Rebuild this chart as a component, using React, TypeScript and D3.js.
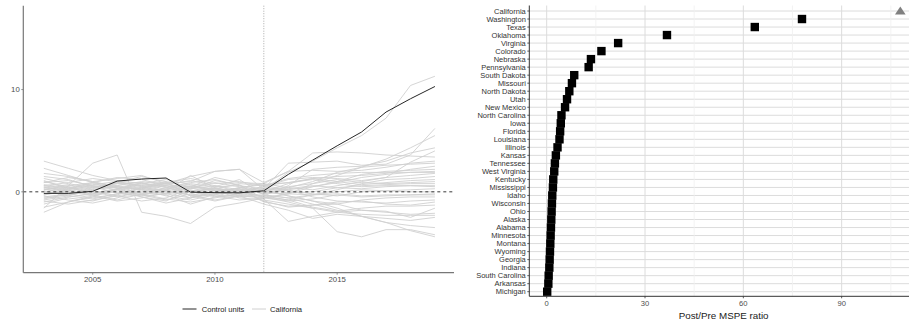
import React from "react";
import * as d3 from "d3";

const years = d3.range(2003, 2020);
const treatYear = 2012;

const controlUnits = [-0.15, -0.15, 0.05, 1.05, 1.25, 1.35, -0.03, -0.08, -0.1, 0.1, 1.7, 3.1, 4.5, 5.85, 7.8, 9.1, 10.3];

const s1 = [0.4, 0.7, 0.2, 0.5, 0.3, 0.1, 0.4, -0.2, 0.1, 0.2, 1.9, 3.0, 4.3, 5.5, 7.2, 10.4, 11.3];
const s2 = [3.0, 2.3, 1.6, 1.1, 0.8, 0.6, 0.5, 0.3, -0.2, 0.3, 2.8, 2.9, 3.0, 2.6, 2.7, 3.6, 6.2];
const s3 = [-1.6, 0.6, 2.8, 3.6, -2.0, -2.4, -3.1, -1.5, -1.1, -0.6, -0.2, 0.8, 1.6, 2.4, 3.2, 4.3, 5.5];
const s4 = [-2.0, -1.0, -0.5, 0.3, 0.7, 0.5, -0.4, -0.3, -0.5, -0.4, 0.6, 2.2, 2.4, 2.5, 3.0, 3.8, 4.3];
const s5 = [1.8, 1.5, 1.0, 1.3, 1.6, 0.8, 1.5, 2.0, 2.2, 0.9, 2.0, 3.8, 3.9, 3.8, 3.6, 3.5, 3.4];
const s6 = [0.9, 1.1, 0.6, 0.2, -0.3, 0.1, 1.6, 0.4, -0.1, 0.5, 1.2, 1.4, 1.3, 1.1, 1.4, 2.9, 4.0];
const s7 = [-0.5, -0.2, 0.3, 0.8, 0.9, 0.2, -0.6, 0.1, 0.3, -0.2, 0.4, 1.0, 1.9, 2.4, 2.6, 2.7, 2.8];
const s8 = [0.2, 0.5, -0.3, -0.8, -0.2, 0.4, 0.9, 1.2, 0.6, 0.0, 0.8, 1.3, 1.5, 1.6, 1.8, 2.2, 2.5];
const s9 = [1.1, 0.3, 0.8, 0.4, -0.5, -0.9, 0.2, -0.4, -0.8, -0.6, -0.2, 0.5, 1.0, 1.7, 2.0, 2.1, 2.2];
const s10 = [-0.8, -0.4, 0.2, 0.6, 1.0, 0.8, 0.3, 0.6, 0.2, 0.4, 0.2, 0.5, 0.9, 1.4, 1.7, 1.9, 2.0];
const s11 = [0.6, 0.9, 1.3, 1.0, 0.5, 0.0, -0.3, -0.1, 0.4, 0.8, 0.4, 0.2, 0.6, 1.0, 1.4, 1.6, 1.8];
const s12 = [-1.2, -0.6, -0.9, -0.3, 0.4, 0.7, 1.1, 0.6, 0.0, -0.5, -0.8, -0.3, 0.2, 0.8, 1.2, 1.3, 1.5];
const s13 = [0.3, -0.2, -0.6, -0.2, 0.3, 0.9, 1.3, 0.8, 1.0, 0.6, 0.9, 1.3, 1.0, 0.7, 0.9, 1.1, 1.2];
const s14 = [0.0, 0.4, 0.9, 1.4, 1.2, 0.6, 0.1, -0.5, -0.3, 0.1, 0.5, 0.8, 1.2, 0.9, 0.8, 0.9, 1.0];
const s15 = [1.5, 1.2, 0.5, -0.1, -0.4, -0.2, 0.4, 0.9, 0.5, -0.2, 0.3, 0.6, 0.4, 0.6, 0.7, 0.8, 0.8];
const s16 = [-0.3, 0.2, 0.6, 0.4, -0.2, -0.7, -1.0, -0.6, -0.2, 0.2, -0.1, 0.0, 0.4, 0.3, 0.5, 0.6, 0.5];
const s17 = [0.7, 0.4, -0.1, 0.3, 0.8, 1.2, 0.7, 0.2, -0.4, -0.3, -0.6, -0.3, 0.0, 0.2, 0.1, 0.2, 0.3];
const s18 = [-0.9, -1.2, -0.8, -0.4, 0.0, 0.3, 0.8, 0.5, 0.6, 0.3, 0.1, -0.2, -0.4, 0.0, 0.1, 0.0, 0.0];
const s19 = [0.4, 0.0, -0.4, -0.9, -0.6, -0.1, 0.5, 0.1, -0.4, -0.6, -0.9, -0.7, -0.3, -0.5, -0.4, -0.3, -0.2];
const s20 = [1.3, 0.8, 0.4, 0.9, 1.5, 1.0, -0.4, -0.9, -0.4, 0.1, -0.4, -0.9, -1.2, -0.8, -0.6, -0.5, -0.5];
const s21 = [-0.4, -0.8, -1.1, -0.6, 0.2, 0.6, 0.0, 0.3, 0.8, 0.6, 0.2, -0.5, -0.9, -1.0, -1.1, -0.9, -0.8];
const s22 = [0.9, 1.4, 1.0, 0.5, 0.2, -0.4, -0.8, -0.3, 0.2, -0.9, -1.5, -1.3, -1.0, -0.9, -1.2, -1.3, -1.0];
const s23 = [-1.5, -1.0, -0.4, 0.2, -0.3, -0.8, -0.2, 0.4, -0.1, -0.4, -0.8, -1.5, -1.9, -1.6, -1.4, -1.4, -1.3];
const s24 = [0.2, 0.6, 0.9, 0.5, -0.1, -0.3, -1.2, -0.5, 0.3, -1.0, -1.4, -1.3, -1.2, -1.8, -1.9, -2.5, -1.6];
const s25 = [-0.6, -0.3, 0.1, -0.4, -0.9, -0.6, 0.3, 1.1, 0.7, -0.7, -2.9, -2.4, -2.0, -1.8, -2.0, -2.2, -2.1];
const s26 = [1.0, 0.5, 0.0, -0.5, -0.3, 0.2, 0.6, 0.1, -0.6, -0.8, -1.2, -1.6, -2.0, -2.2, -2.3, -2.3, -2.3];
const s27 = [-0.2, 0.3, 0.7, 1.0, 0.6, 0.1, -0.3, -0.8, -0.4, -1.2, -1.8, -2.6, -2.2, -2.4, -2.6, -2.8, -2.5];
const s28 = [0.6, 0.2, -0.2, 0.2, 0.5, 0.9, -0.4, 0.3, 0.1, -0.5, -1.0, -1.6, -3.9, -4.4, -3.7, -3.7, -4.2];
const s29 = [-1.0, -0.5, -0.2, 0.3, 0.9, 0.4, -0.1, 0.5, 1.2, -0.3, -0.6, -1.2, -1.8, -2.4, -3.0, -3.3, -3.5];
const s30 = [0.1, -0.4, -0.7, -0.2, 0.4, 0.8, 1.0, 2.0, 2.2, 0.2, -0.4, -0.9, -1.6, -2.4, -3.0, -3.8, -4.4];
const s31 = [2.3, 1.6, 0.9, 0.6, 0.2, -0.2, -0.6, -0.2, 0.4, 0.7, 0.9, 1.2, 0.8, 0.5, 0.6, 0.6, 0.6];
const s32 = [-0.3, 0.1, 0.5, 0.8, 0.4, -0.2, 0.1, 0.3, -0.2, 0.6, 1.3, 1.6, 1.8, 1.9, 1.9, 1.9, 1.9];
const s33 = [0.5, 0.1, -0.3, 0.0, -0.5, -1.1, -0.6, 0.0, 0.4, -0.1, -0.2, -0.3, -0.2, -0.4, -0.3, -0.3, -0.3];
const s34 = [-0.7, -0.2, 0.4, 0.9, 0.6, 1.0, 0.5, 1.4, 0.9, 0.8, 2.0, 2.1, 2.0, 2.1, 2.4, 2.8, 3.0];

const placebos = [s1, s2, s3, s4, s5, s6, s7, s8, s9, s10, s11, s12, s13, s14, s15, s16, s17,
  s18, s19, s20, s21, s22, s23, s24, s25, s26, s27, s28, s29, s30, s31, s32, s33, s34];

const leftYTicks = [0, 10];
const leftXTicks = [2005, 2010, 2015];
const legendLabels = ["Control units", "California"];

const states = ["California", "Washington", "Texas", "Oklahoma", "Virginia", "Colorado", "Nebraska",
  "Pennsylvania", "South Dakota", "Missouri", "North Dakota", "Utah", "New Mexico", "North Carolina",
  "Iowa", "Florida", "Louisiana", "Illinois", "Kansas", "Tennessee", "West Virginia", "Kentucky",
  "Mississippi", "Idaho", "Wisconsin", "Ohio", "Alaska", "Alabama", "Minnesota", "Montana", "Wyoming",
  "Georgia", "Indiana", "South Carolina", "Arkansas", "Michigan"];
const ratios = [107.9, 77.9, 63.5, 36.7, 21.8, 16.7, 13.5, 12.8, 8.4, 7.7, 6.9, 6.2, 5.6, 4.5,
  4.3, 4.1, 3.9, 3.3, 2.8, 2.5, 2.3, 2.0, 1.9, 1.7, 1.6, 1.5, 1.4, 1.3, 1.2, 1.1, 1.0,
  0.9, 0.8, 0.6, 0.5, 0.15];
const treatedState = "California";
const rightMajorTicks = [0, 30, 60, 90];
const rightMinorTicks = [15, 45, 75, 105];
const rightXTitle = "Post/Pre MSPE ratio";

const FONT = "'Liberation Sans', Arial, sans-serif";

export default function App() {
  // left panel
  const lx = d3.scaleLinear().domain([2002.16, 2019.78]).range([23.3, 454]);
  const ly = d3.scaleLinear().domain([-7.91, 18.2]).range([272.7, 5.7]);
  const line = d3.line<number>().x((_, i) => lx(years[i])).y((d) => ly(d));

  // right panel
  const rx = d3.scaleLinear().domain([-5.31, 113.3]).range([529.3, 918]);
  const ry = d3.scalePoint<string>().domain(states).range([11, 291.7]);
  const rTop = 5.5, rBottom = 296.3;
  const sq = 8.4;

  const axisCol = "#4d4d4d";
  const textCol = "#4d4d4d";

  return (
    <svg width={909} height={322} style={{ position: "absolute", left: 0, top: 0, background: "#fff" }}
      fontFamily={FONT}>
      {/* ===== Left panel ===== */}
      <g>
        {placebos.map((s, i) => (
          <path key={i} d={line(s) || ""} fill="none" stroke="#d0d0d0" strokeWidth={0.9} />
        ))}
        <path d={line(controlUnits) || ""} fill="none" stroke="#262626" strokeWidth={1} />
        <line x1={lx.range()[0]} x2={lx.range()[1]} y1={ly(0)} y2={ly(0)} stroke="#222"
          strokeWidth={0.9} strokeDasharray="3,3" />
        <line x1={lx(treatYear)} x2={lx(treatYear)} y1={ly.range()[1]} y2={ly.range()[0]}
          stroke="#aaa" strokeWidth={1} strokeDasharray="1,1.5" />
        {/* axes */}
        <line x1={lx.range()[0]} x2={lx.range()[0]} y1={ly.range()[1]} y2={ly.range()[0]}
          stroke="#777" strokeWidth={1.2} />
        <line x1={lx.range()[0]} x2={lx.range()[1]} y1={ly.range()[0]} y2={ly.range()[0]}
          stroke="#777" strokeWidth={1.2} />
        {leftYTicks.map((t) => (
          <g key={t}>
            <line x1={lx.range()[0] - 2} x2={lx.range()[0]} y1={ly(t)} y2={ly(t)} stroke="#777" strokeWidth={0.8} />
            <text x={lx.range()[0] - 3.5} y={ly(t)} dy="0.35em" textAnchor="end" fontSize={7.8} fill={textCol}>{t}</text>
          </g>
        ))}
        {leftXTicks.map((t) => (
          <g key={t}>
            <line x1={lx(t)} x2={lx(t)} y1={ly.range()[0]} y2={ly.range()[0] + 2} stroke="#777" strokeWidth={0.8} />
            <text x={lx(t)} y={ly.range()[0] + 9.5} textAnchor="middle" fontSize={7.8} fill={textCol}>{t}</text>
          </g>
        ))}
        {/* legend */}
        <line x1={182.5} x2={196.5} y1={309} y2={309} stroke="#262626" strokeWidth={1} />
        <text x={201.7} y={309} dy="0.35em" fontSize={7.6} fill="#222">{legendLabels[0]}</text>
        <line x1={252} x2={266} y1={309} y2={309} stroke="#d0d0d0" strokeWidth={1} />
        <text x={270} y={309} dy="0.35em" fontSize={7.6} fill="#222">{legendLabels[1]}</text>
      </g>

      {/* ===== Right panel ===== */}
      <g>
        {states.map((s) => (
          <line key={s} x1={rx.range()[0]} x2={rx.range()[1]} y1={ry(s)} y2={ry(s)} stroke="#dcdcdc" strokeWidth={1} />
        ))}
        {rightMinorTicks.map((t) => (
          <line key={t} x1={rx(t)} x2={rx(t)} y1={rTop} y2={rBottom} stroke="#f0f0f0" strokeWidth={0.8} />
        ))}
        {rightMajorTicks.map((t) => (
          <line key={t} x1={rx(t)} x2={rx(t)} y1={rTop} y2={rBottom} stroke="#dcdcdc" strokeWidth={1} />
        ))}
        {states.map((s, i) =>
          s === treatedState ? (
            <path key={s}
              d={`M${rx(ratios[i])},${(ry(s) as number) - 4.6} L${rx(ratios[i]) + 5.3},${(ry(s) as number) + 3.6} L${rx(ratios[i]) - 5.3},${(ry(s) as number) + 3.6} Z`}
              fill="#808080" />
          ) : (
            <rect key={s} x={rx(ratios[i]) - sq / 2} y={(ry(s) as number) - sq / 2} width={sq} height={sq} fill="#000" />
          )
        )}
        <line x1={rx.range()[0]} x2={rx.range()[0]} y1={rTop} y2={rBottom} stroke="#333" strokeWidth={1} />
        <line x1={rx.range()[0]} x2={rx.range()[1]} y1={rBottom} y2={rBottom} stroke="#333" strokeWidth={1} />
        {states.map((s) => (
          <g key={s}>
            <line x1={rx.range()[0] - 2} x2={rx.range()[0]} y1={ry(s)} y2={ry(s)} stroke="#333" strokeWidth={0.8} />
            <text x={rx.range()[0] - 3.5} y={ry(s)} dy="0.35em" textAnchor="end" fontSize={7.5} fill="#333">{s}</text>
          </g>
        ))}
        {rightMajorTicks.map((t) => (
          <g key={t}>
            <line x1={rx(t)} x2={rx(t)} y1={rBottom} y2={rBottom + 2} stroke="#333" strokeWidth={0.8} />
            <text x={rx(t)} y={rBottom + 9.5} textAnchor="middle" fontSize={7.6} fill={textCol}>{t}</text>
          </g>
        ))}
        <text x={(rx.range()[0] + rx.range()[1]) / 2} y={319} textAnchor="middle" fontSize={9.8} fill="#222">{rightXTitle}</text>
      </g>
    </svg>
  );
}
